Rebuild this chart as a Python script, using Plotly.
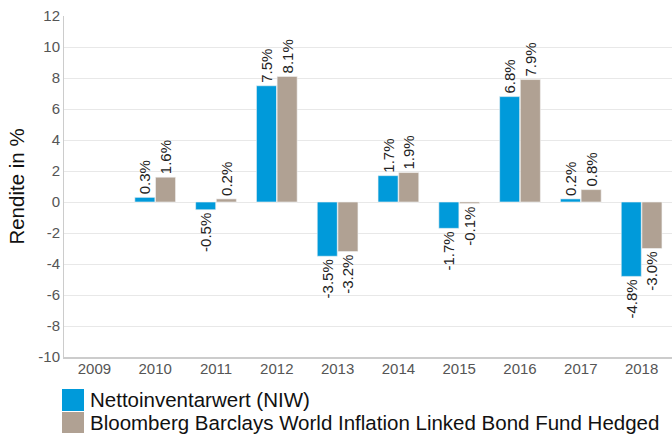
import plotly.graph_objects as go

years = ["2009", "2010", "2011", "2012", "2013", "2014", "2015", "2016", "2017", "2018"]
niw = [None, 0.3, -0.5, 7.5, -3.5, 1.7, -1.7, 6.8, 0.2, -4.8]
bench = [None, 1.6, 0.2, 8.1, -3.2, 1.9, -0.1, 7.9, 0.8, -3.0]
series_names = ["Nettoinventarwert (NIW)", "Bloomberg Barclays World Inflation Linked Bond Fund Hedged"]
colors = ["#009ADA", "#B0A193"]
y_ticks = list(range(-10, 13, 2))

def labels(vals):
    return ["" if v is None else f"{v:.1f}%" for v in vals]

L, R, T, B = 64, 0, 16, 77
W, H = 672, 434
pw, ph = W - L - R, H - T - B

def px_x(x):
    return (x - L) / pw

def px_y(y):
    return (H - B - y) / ph

fig = go.Figure()
for name, vals, col in zip(series_names, [niw, bench], colors):
    fig.add_trace(go.Bar(
        x=years, y=vals, name=name,
        marker=dict(color=col, line=dict(color="#f4f4f4", width=0.6)),
        text=labels(vals), textposition="outside", textangle=-90,
        constraintext="none",
        textfont=dict(size=15, color="#222222"),
        cliponaxis=False, showlegend=False,
    ))

# legend drawn manually (large square swatches)
rows = [(389, 411), (412, 433)]
for (y0, y1), name, col in zip(rows, series_names, colors):
    fig.add_shape(type="rect", xref="paper", yref="paper",
                  x0=px_x(62), x1=px_x(84), y0=px_y(y1), y1=px_y(y0),
                  fillcolor=col, line=dict(width=0))
    fig.add_annotation(xref="paper", yref="paper", x=px_x(88), y=px_y((y0 + y1) / 2),
                       xanchor="left", yanchor="middle", showarrow=False,
                       text=name, font=dict(size=20.5, color="#111111"))

fig.update_layout(
    width=W, height=H,
    margin=dict(l=L, r=R, t=T, b=B, autoexpand=False),
    paper_bgcolor="white", plot_bgcolor="white",
    font=dict(family="Liberation Sans, Arial, sans-serif", color="#222222"),
    barmode="group", bargap=0.32, bargroupgap=0.03,
    showlegend=False,
    yaxis=dict(range=[-10, 12], tickvals=y_ticks, ticktext=[str(t) for t in y_ticks],
               showgrid=True, gridcolor="#e8e8e8", gridwidth=1, automargin=False,
               zeroline=False, showline=True, linecolor="#cccccc", linewidth=1,
               tickfont=dict(size=15, color="#555555"), ticks="", ticklen=0,
               title=dict(text="Rendite in %", font=dict(size=20.5, color="#111111"), standoff=8)),
    xaxis=dict(showgrid=False, showline=True, linecolor="#cccccc", linewidth=2, automargin=False,
               tickfont=dict(size=15, color="#555555"), ticks="", ticklabelstandoff=-3),
)
fig.write_html("out.html", config={"displayModeBar": False},
               post_script="document.body.style.margin='0px';document.body.style.overflow='hidden';")
